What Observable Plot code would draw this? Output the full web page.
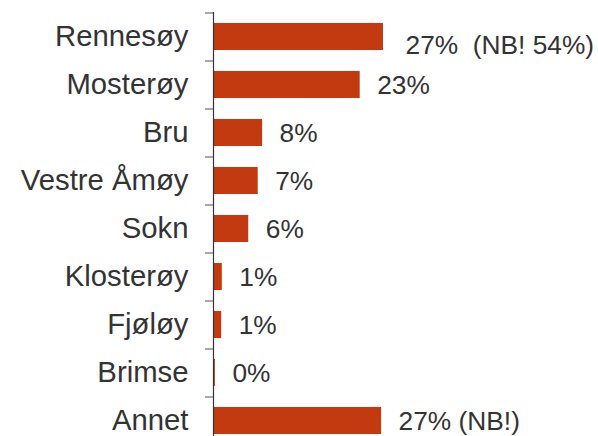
<!DOCTYPE html>
<html>
<head>
<meta charset="utf-8">
<script src="https://cdn.jsdelivr.net/npm/d3@7"></script>
<script src="https://cdn.jsdelivr.net/npm/@observablehq/plot@0.6"></script>
<style>
  html, body { margin: 0; padding: 0; background: #fff; }
  #chart svg { display: block; }
</style>
</head>
<body>
<div id="chart"></div>
<script>
const categories = ["Rennesøy", "Mosterøy", "Bru", "Vestre Åmøy", "Sokn", "Klosterøy", "Fjøløy", "Brimse", "Annet"];
const values = [27.0, 23.3, 7.8, 7.1, 5.6, 1.4, 1.3, 0.3, 26.7];
const valueLabels = ["27%\u00a0 (NB! 54%)", "23%", "8%", "7%", "6%", "1%", "1%", "0%", "27% (NB!)"];

const data = categories.map((c, i) => ({category: c, value: values[i], label: valueLabels[i]}));

const chart = Plot.plot({
  width: 598,
  height: 436,
  marginTop: 12,
  marginBottom: 0,
  marginLeft: 213,
  marginRight: 0,
  style: {fontFamily: "'Liberation Sans', Arial, sans-serif", color: "#333", background: "#fff"},
  x: {domain: [0, 27], range: [213, 383], axis: null},
  y: {domain: categories, range: [12, 444], paddingInner: 0.44, paddingOuter: 0.22, label: null},
  marks: [
    Plot.barX(data, {x: "value", y: "category", fill: "#C43A10"}),
    Plot.ruleX([0], {stroke: "#333", strokeWidth: 1.2}),
    Plot.axisY({tickSize: 8, fill: "none", stroke: "#555", dy: -24, label: null}),
    Plot.axisY({tickSize: 0, tickPadding: 25, fontSize: 29.3, fill: "#333", label: null}),
    Plot.text(data.slice(1), {x: "value", y: "category", text: "label", textAnchor: "start", dx: 17, dy: 0.5, fontSize: 26.3, fill: "#333"}),
    Plot.text(data.slice(0, 1), {x: "value", y: "category", text: "label", textAnchor: "start", dx: 22, dy: 8.5, fontSize: 26.3, fill: "#333"})
  ]
});
document.getElementById("chart").appendChild(chart);
</script>
</body>
</html>
